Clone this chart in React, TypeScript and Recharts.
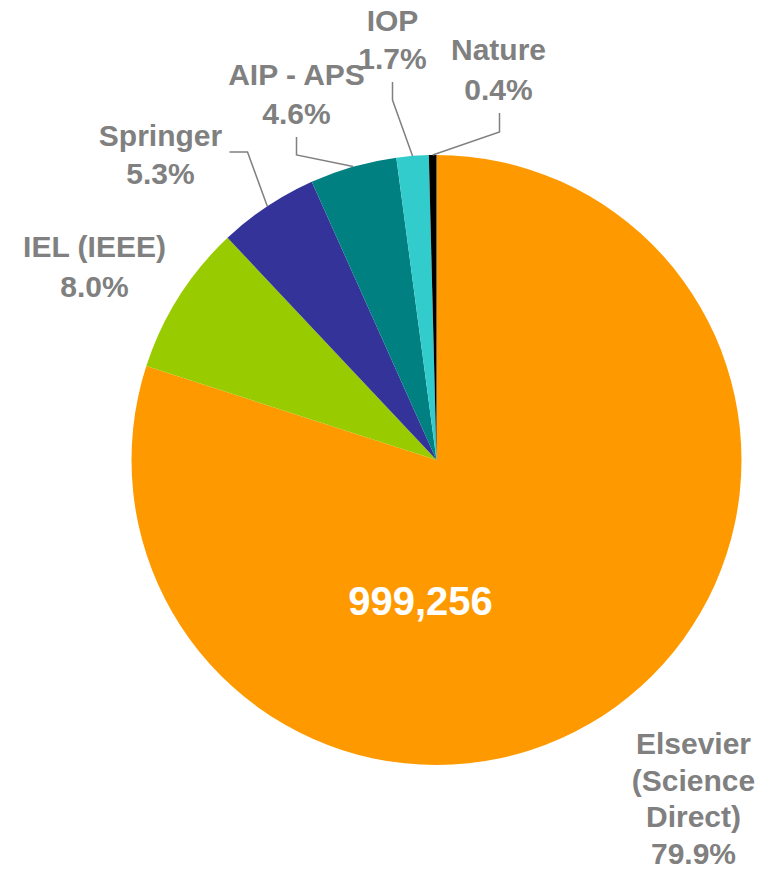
import React from 'react';
import { PieChart, Pie, Cell } from 'recharts';

const publishers = ['Elsevier (Science Direct)', 'IEL (IEEE)', 'Springer', 'AIP - APS', 'IOP', 'Nature'];
const shares = [79.9, 8.0, 5.3, 4.6, 1.7, 0.4];
const elsevierArticles = 999256;

// label text split into lines, one entry per slice
const labelLines = [
  ['Elsevier', '(Science', 'Direct)'],
  ['IEL (IEEE)'],
  ['Springer'],
  ['AIP - APS'],
  ['IOP'],
  ['Nature'],
];

const COLORS = ['#FF9900', '#99CC00', '#333399', '#008080', '#33CCCC', '#000000'];
const TEXT_GRAY = '#808080';
const RADIAN = Math.PI / 180;

// where each label sits, relative to the pie centre; leader = text-side points
const labelLayout = [
  { dx: 257, dy: 294, lineH: 36.5, leader: null },
  { dx: -342, dy: -203, lineH: 40, leader: null },
  { dx: -276, dy: -314, lineH: 38, leader: [[-207, -308], [-189, -308]] },
  { dx: -140, dy: -375, lineH: 39, leader: [[-140, -323], [-140, -305]] },
  { dx: -44, dy: -429, lineH: 38, leader: [[-44, -378], [-44, -360]] },
  { dx: 62, dy: -400, lineH: 40, leader: [[63, -347], [63, -328]] },
];

const data = publishers.map((name, i) => ({ name, value: shares[i] }));

function renderLabel(props: any) {
  const { cx, cy, midAngle, outerRadius, index } = props;
  const layout = labelLayout[index];
  const lines = [...labelLines[index], `${shares[index].toFixed(1)}%`];
  const ex = cx + outerRadius * Math.cos(-midAngle * RADIAN);
  const ey = cy + outerRadius * Math.sin(-midAngle * RADIAN);
  const tx = cx + layout.dx;
  const ty = cy + layout.dy;
  return (
    <g key={`label-${index}`}>
      {layout.leader && (
        <polyline
          points={[...layout.leader.map(([x, y]) => `${cx + x},${cy + y}`), `${ex},${ey}`].join(' ')}
          fill="none"
          stroke={TEXT_GRAY}
          strokeWidth={1.5}
        />
      )}
      <text
        x={tx}
        y={ty}
        textAnchor="middle"
        fill={TEXT_GRAY}
        fontFamily="'Liberation Sans', Arial, sans-serif"
        fontWeight="bold"
        fontSize={30}
      >
        {lines.map((line, j) => (
          <tspan key={j} x={tx} y={ty + j * layout.lineH}>
            {line}
          </tspan>
        ))}
      </text>
      {index === 0 && (
        <text
          x={cx - 16}
          y={cy + 155}
          textAnchor="middle"
          fill="#FFFFFF"
          fontFamily="'Liberation Sans', Arial, sans-serif"
          fontWeight="bold"
          fontSize={40}
        >
          {elsevierArticles.toLocaleString('en-US')}
        </text>
      )}
    </g>
  );
}

export default function App() {
  return (
    <div style={{ position: 'absolute', left: 0, top: 0, background: '#fff' }}>
      <PieChart width={766} height={870} margin={{ top: 0, right: 0, bottom: 0, left: 0 }}>
        <Pie
          data={data}
          dataKey="value"
          nameKey="name"
          cx={436.5}
          cy={460}
          outerRadius={305}
          startAngle={90}
          endAngle={-270}
          stroke="none"
          label={renderLabel}
          labelLine={false}
          isAnimationActive={false}
        >
          {data.map((entry, i) => (
            <Cell key={entry.name} fill={COLORS[i]} />
          ))}
        </Pie>
      </PieChart>
    </div>
  );
}
